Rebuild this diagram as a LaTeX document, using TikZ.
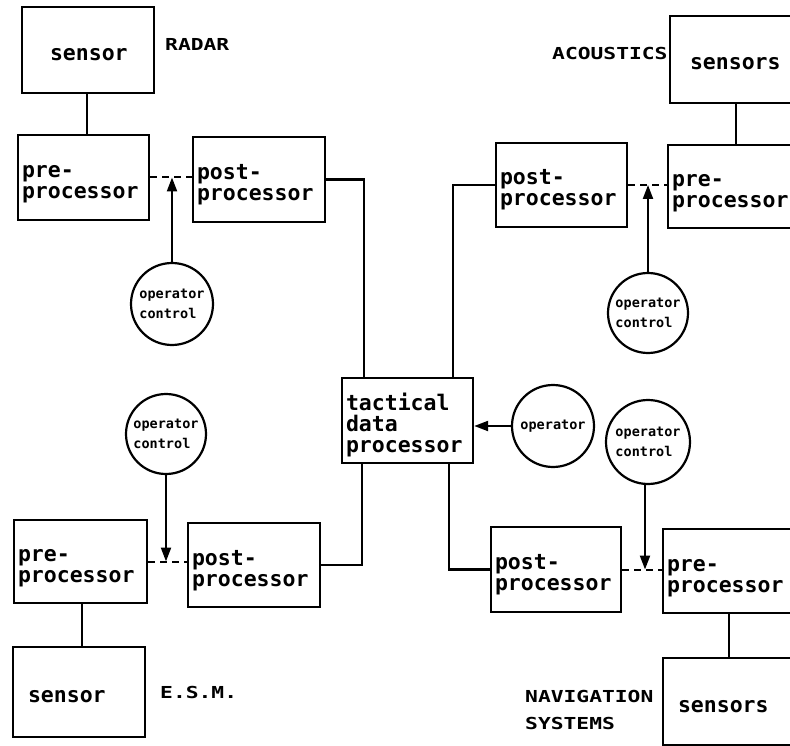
\documentclass[tikz,border=0pt]{standalone}
\usepackage{fontspec}
\newfontfamily\plotfont{DejaVu Sans Mono}
\newfontfamily\capfont[FakeStretch=1.29]{DejaVu Sans Mono}
\usetikzlibrary{arrows.meta}
\newcommand\boxtop{\rule{0pt}{26pt}}
\newcommand\boxbot{\rule[-5pt]{0pt}{5pt}}
\begin{document}
\begin{tikzpicture}[x=1pt,y=-1pt,
  box/.style={draw, line width=2.4pt, rectangle, align=left, inner xsep=4pt, inner ysep=0pt,
    font=\plotfont\bfseries\fontsize{21.5}{21}\selectfont},
  opc/.style={draw, circle, line width=2.2pt, inner sep=0pt, minimum size=#1, align=left,
    font=\plotfont\bfseries\fontsize{13.5}{20}\selectfont},
  caplab/.style={inner sep=0pt, font=\capfont\bfseries\fontsize{16.5}{27}\selectfont},
  conn/.style={line width=2.2pt},
  dconn/.style={line width=2pt, dash pattern=on 7pt off 5pt},
  arr/.style={line width=2.2pt, -{Triangle[length=14pt,width=10pt]}}]
\useasboundingbox (0,0) rectangle (790,746);
\fill[white] (0,0) rectangle (790,746);

% RADAR
\node[box, text width=76pt, inner xsep=28pt, minimum height=86pt] (rs) at (88,50) {\boxtop sensor\boxbot};
\node[caplab, anchor=base west] (radar) at (165,51) {RADAR};
\node[box, text width=123pt, minimum height=85pt] (rp) at (83.5,177.5) {\boxtop pre-\\processor\boxbot};
\node[box, text width=124pt, minimum height=85pt] (rpo) at (259,179.5) {\boxtop post-\\processor\boxbot};
\node[opc=82pt] (rc) at (172,304) {operator\\control};

% ACOUSTICS
\node[box, text width=92pt, inner xsep=20pt, minimum height=87pt] (as) at (736,59.5) {\boxtop sensors\boxbot};
\node[caplab, anchor=base west] (acou) at (552,60) {ACOUSTICS};
\node[box, text width=123pt, minimum height=84pt] (apo) at (561.5,185) {\boxtop post-\\processor\boxbot};
\node[box, text width=124pt, minimum height=83pt] (ap) at (734,186.5) {\boxtop pre-\\processor\boxbot};
\node[opc=80pt] (ac) at (648,313) {operator\\control};

% TACTICAL
\node[box, text width=123pt, minimum height=85pt] (tac) at (407.5,420.5) {\boxtop tactical\\data\\processor\boxbot};
\node[opc=82pt] (op) at (553,426) {operator};

% E.S.M.
\node[opc=80pt] (ec) at (166,434) {operator\\control};
\node[box, text width=125pt, minimum height=83pt] (ep) at (80.5,561.5) {\boxtop pre-\\processor\boxbot};
\node[box, text width=124pt, minimum height=84pt] (epo) at (254,565) {\boxtop post-\\processor\boxbot};
\node[box, text width=102pt, inner xsep=15pt, minimum height=90pt] (es) at (79,692) {\boxtop sensor\boxbot};
\node[caplab, anchor=base west] (esm) at (160,698) {E.S.M.};

% NAVIGATION
\node[opc=84pt] (nc) at (648,442) {operator\\control};
\node[box, text width=122pt, minimum height=85pt] (npo) at (556,569.5) {\boxtop post-\\processor\boxbot};
\node[box, text width=124pt, minimum height=84pt] (np) at (729,571) {\boxtop pre-\\processor\boxbot};
\node[box, text width=102pt, inner xsep=15pt, minimum height=87pt] (ns) at (729,701.5) {\boxtop sensors\boxbot};
\node[caplab, align=left, anchor=north west] (nav) at (525,690) {NAVIGATION\\SYSTEMS};

% junction coordinates
\coordinate (j1) at (rc.north |- rp.east);
\coordinate (j2) at (ac.north |- apo.east);
\coordinate (j3) at (ec.south |- ep.east);
\coordinate (j4) at (nc.south |- npo.east);

% connectors
\draw[conn] ([xshift=-1pt]rs.south) -- ([xshift=-1pt]rs.south |- rp.north);
\draw[dconn] (rp.east) -- (rp.east -| rpo.west);
\draw[arr] (rc.north) -- (j1);
\draw[conn] (rpo.east) -| ([xshift=23pt]tac.north west);

\draw[conn] (as.south) -- (as.south |- ap.north);
\draw[dconn] (apo.east) -- (apo.east -| ap.west);
\draw[arr] (ac.north) -- (j2);
\draw[conn] (apo.west) -| ([xshift=-21pt]tac.north east);

\draw[arr] (op.west) -- (op.west -| tac.east);

\draw[arr] (ec.south) -- (j3);
\draw[dconn] (ep.east) -- (ep.east -| epo.west);
\draw[conn] (epo.east) -| ([xshift=21pt]tac.south west);
\draw[conn] ([xshift=1.5pt]ep.south) -- ([xshift=1.5pt]ep.south |- es.north);

\draw[conn] ([xshift=-25pt]tac.south east) |- (npo.west);
\draw[dconn] (npo.east) -- (npo.east -| np.west);
\draw[arr] ([xshift=-3pt]nc.south) -- ([xshift=-3pt]j4);
\draw[conn] (np.south) -- (np.south |- ns.north);
\end{tikzpicture}
\end{document}
